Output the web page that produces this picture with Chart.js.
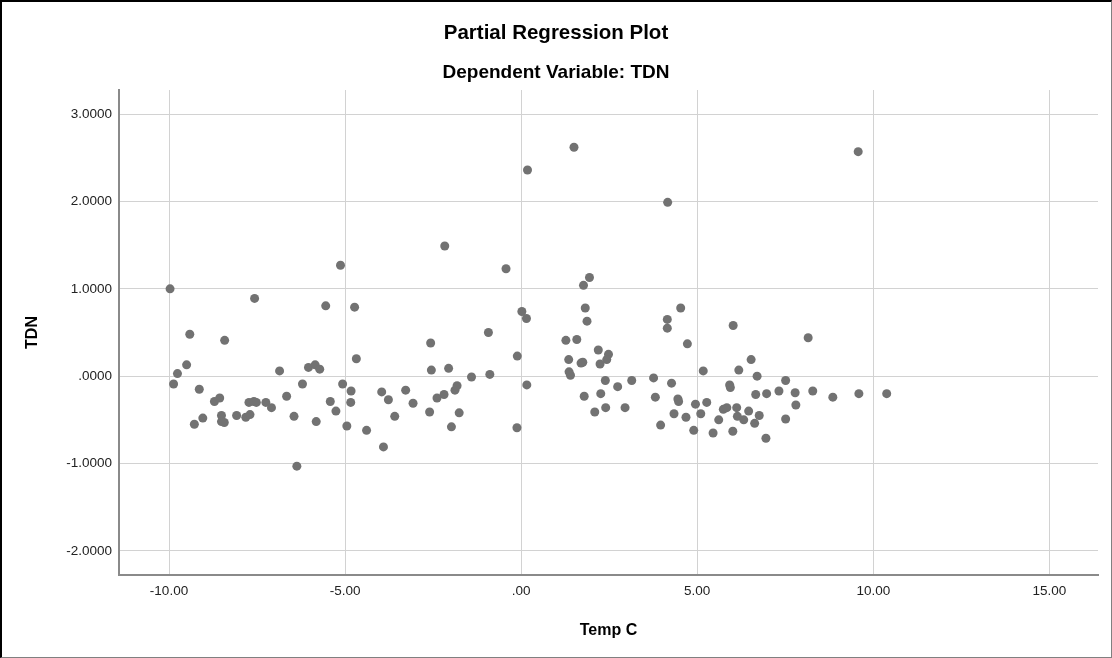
<!DOCTYPE html>
<html>
<head>
<meta charset="utf-8">
<title>Partial Regression Plot</title>
<script src="https://cdn.jsdelivr.net/npm/chart.js@4.4.1/dist/chart.umd.min.js"></script>
<style>
  html, body { margin: 0; padding: 0; background: #ffffff; }
  #wrap { position: relative; width: 1112px; height: 658px; }
  #frame {
    position: absolute; left: 0; top: 0; width: 1112px; height: 658px;
    box-sizing: border-box; pointer-events: none;
    border-top: 2px solid #000; border-left: 2px solid #000;
    border-right: 1px solid #808080; border-bottom: 1px solid #808080;
  }
</style>
</head>
<body>
<div id="wrap">
  <canvas id="chart" width="1112" height="658"></canvas>
  <div id="frame"></div>
</div>
<script>
// Partial residuals: Temp C (x) against TDN (y)
const tempC = [
  -9.97, -7.57, -5.55, -4.73, -9.41, -8.42, -9.50, -9.76, -9.87, -9.14,
  -8.71, -8.56, -9.28, -9.04, -8.51, -8.51, -8.43, -8.08, -7.82, -7.70,
  -7.73, -7.59, -7.52, -7.25, -7.09, -6.86, -6.66, -6.45, -6.21, -6.37,
  -6.04, -5.85, -5.72, -5.82, -5.42, -5.26, -5.07, -4.95, -4.83, -4.84,
  -4.68, -5.13, -4.39, -3.91, -3.96, -3.77, -3.59, -3.28, -3.07, -2.57,
  -2.55, -2.60, -2.39, -2.19, -2.06, -1.88, -1.82, -1.98, -1.76, -1.41,
  -0.93, -0.89, -0.11, -0.12, 0.02, 0.15, 0.16, -2.17, -0.43, 0.18,
  1.50, 1.94, 1.77, 1.82, 1.87, 1.27, 1.58, 1.35, 1.70, 1.75,
  1.36, 1.40, 1.79, 2.19, 2.48, 2.43, 2.24, 2.39, 2.26, 2.74,
  2.40, 2.09, 2.95, 3.14, 3.76, 3.81, 3.96, 4.15, 4.15, 4.53,
  4.72, 4.27, 4.45, 4.47, 4.34, 4.68, 4.95, 4.90, 5.10, 5.17,
  5.27, 5.45, 5.61, 5.74, 5.84, 5.92, 5.94, 6.01, 6.02, 6.12,
  6.14, 6.18, 6.32, 6.46, 6.53, 6.63, 6.66, 6.70, 6.76, 6.95,
  6.97, 7.32, 7.51, 7.51, 7.78, 7.80, 8.15, 8.28, 8.85, 9.57,
  9.59, 10.38, 4.16
];
const tdn = [
  1.00, 0.89, 0.805, 0.79, 0.48, 0.41, 0.13, 0.03, -0.09, -0.15,
  -0.29, -0.25, -0.55, -0.48, -0.45, -0.52, -0.53, -0.45, -0.47, -0.44,
  -0.30, -0.29, -0.30, -0.30, -0.36, 0.06, -0.23, -0.46, -0.09, -1.03,
  0.10, 0.13, 0.08, -0.52, -0.29, -0.40, -0.09, -0.57, -0.17, -0.30,
  0.20, 1.27, -0.62, -0.81, -0.18, -0.27, -0.46, -0.16, -0.31, 0.38,
  0.07, -0.41, -0.25, -0.21, 0.09, -0.16, -0.11, -0.58, -0.42, -0.01,
  0.50, 0.02, 0.23, -0.59, 0.74, 0.66, -0.10, 1.49, 1.23, 2.36,
  2.62, 1.13, 1.04, 0.78, 0.63, 0.41, 0.42, 0.19, 0.15, 0.16,
  0.05, 0.01, -0.23, 0.30, 0.25, 0.19, 0.14, -0.05, -0.20, -0.12,
  -0.36, -0.41, -0.36, -0.05, -0.02, -0.24, -0.56, 0.65, 0.55, 0.78,
  0.37, -0.08, -0.26, -0.29, -0.43, -0.47, -0.32, -0.62, -0.43, 0.06,
  -0.30, -0.65, -0.50, -0.38, -0.36, -0.10, -0.13, -0.63, 0.58, -0.36,
  -0.46, 0.07, -0.50, -0.40, 0.19, -0.54, -0.21, 0.00, -0.45, -0.71,
  -0.20, -0.17, -0.49, -0.05, -0.19, -0.33, 0.44, -0.17, -0.24, 2.57,
  -0.20, -0.20, 1.99
];

const xTicks = [-10, -5, 0, 5, 10, 15];
const yTicks = [-2, -1, 0, 1, 2, 3];

const points = tempC.map((x, i) => ({ x: x, y: tdn[i] }));

const FONT = '"Liberation Sans", Arial, Helvetica, sans-serif';
const GRID = '#d2d2d2';
const AXIS = '#8a8a8a';

function fmtY(v) {
  if (v === 0) return '.0000';
  return v.toFixed(4);
}
function fmtX(v) {
  if (v === 0) return '.00';
  return v.toFixed(2);
}

new Chart(document.getElementById('chart'), {
  type: 'scatter',
  data: {
    datasets: [{
      data: points,
      backgroundColor: '#727272',
      borderWidth: 0,
      pointRadius: 4.5,
      pointHoverRadius: 4.5
    }]
  },
  options: {
    responsive: false,
    animation: false,
    events: [],
    layout: { padding: { left: 14, top: 0, right: 14, bottom: 0 } },
    plugins: {
      legend: { display: false },
      tooltip: { enabled: false },
      title: {
        display: true,
        text: 'Partial Regression Plot',
        color: '#000000',
        font: { family: FONT, size: 20.5, weight: 'bold', lineHeight: 1.2 },
        padding: { top: 20.7, bottom: 0 }
      },
      subtitle: {
        display: true,
        text: 'Dependent Variable: TDN',
        color: '#000000',
        font: { family: FONT, size: 19, weight: 'bold', lineHeight: 1.2 },
        padding: { top: 16.3, bottom: 5.6 }
      }
    },
    scales: {
      x: {
        type: 'linear',
        min: -11.42,
        max: 16.38,
        afterFit: (s) => { s.height = 83; },
        afterBuildTicks: (s) => { s.ticks = xTicks.map(v => ({ value: v })); },
        grid: { color: GRID, lineWidth: 1, drawTicks: false },
        border: { display: true, color: AXIS, width: 2 },
        ticks: {
          color: '#222222',
          padding: 8,
          maxRotation: 0,
          autoSkip: false,
          font: { family: FONT, size: 13.5 },
          callback: (v) => fmtX(v)
        },
        title: {
          display: true,
          text: 'Temp C',
          color: '#000000',
          font: { family: FONT, size: 16, weight: 'bold', lineHeight: 1.2 },
          padding: { top: 0, bottom: 17.4 }
        }
      },
      y: {
        type: 'linear',
        min: -2.276,
        max: 3.276,
        afterFit: (s) => { s.width = 105; },
        afterBuildTicks: (s) => { s.ticks = yTicks.map(v => ({ value: v })); },
        grid: { color: GRID, lineWidth: 1, drawTicks: false },
        border: { display: true, color: AXIS, width: 2 },
        ticks: {
          color: '#222222',
          padding: 7,
          autoSkip: false,
          font: { family: FONT, size: 13.5 },
          callback: (v) => fmtY(v)
        },
        title: {
          display: true,
          text: 'TDN',
          color: '#000000',
          font: { family: FONT, size: 16, weight: 'bold', lineHeight: 1.2 },
          padding: { top: 9.4, bottom: 0 }
        }
      }
    }
  }
});
</script>
</body>
</html>
